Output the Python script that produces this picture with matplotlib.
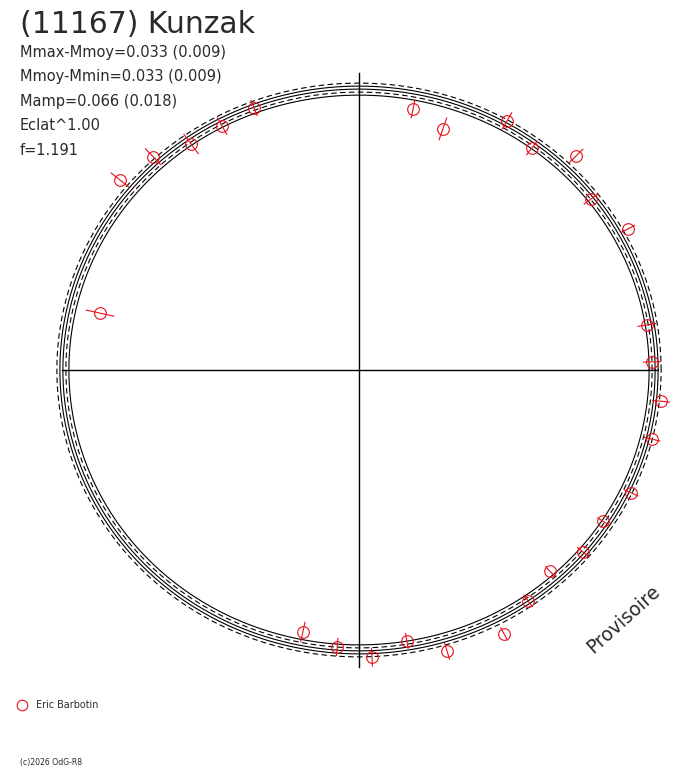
import numpy as np
import matplotlib
matplotlib.use("Agg")
import matplotlib.pyplot as plt

# ---------------- data ----------------
title = "(11167) Kunzak"
stats_lines = ["Mmax-Mmoy=0.033 (0.009)",
               "Mmoy-Mmin=0.033 (0.009)",
               "Mamp=0.066 (0.018)",
               "Eclat^1.00",
               "f=1.191"]
observer = "Eric Barbotin"
copyright_txt = "(c)2026 OdG-R8"
watermark = "Provisoire"

# rotational phase of each measurement (0..1, counterclockwise from +x)
phase = [0.4656, 0.3931, 0.3722, 0.3517, 0.3314, 0.3106, 0.2175, 0.1967,
         0.1647, 0.1447, 0.1239, 0.1011, 0.0769, 0.0247, 0.0044, 0.9836,
         0.9631, 0.9325, 0.9117, 0.8914, 0.8708, 0.8506, 0.8300, 0.7983,
         0.7778, 0.7572, 0.7375, 0.7164]
# brightness deviation (mag, positive = brighter = larger radius)
dmag = [-0.101, 0.073, 0.034, -0.030, -0.038, -0.027, -0.095, -0.144,
        0.005, -0.031, 0.071, -0.001, 0.066, 0.013, 0.020, 0.065,
        0.054, 0.043, -0.007, 0.000, -0.049, -0.010, 0.055, 0.026,
        -0.058, -0.005, -0.046, -0.089]
# measurement uncertainty (mag)
err = [0.061, 0.048, 0.048, 0.052, 0.041, 0.035, 0.039, 0.050,
       0.041, 0.037, 0.041, 0.037, 0.032, 0.039, 0.037, 0.037,
       0.035, 0.032, 0.026, 0.030, 0.026, 0.030, 0.030, 0.037,
       0.032, 0.039, 0.037, 0.043]

# Fourier model of the light curve (harmonic order -> cos, sin amplitude in mag)
model_order = [2]
model_cos = [0.033]
model_sin = [0.000]
# envelopes of the fit (mag offsets) and their line styles
curve_offsets = [-0.026, -0.013, 0.000, 0.013, 0.026]
curve_styles = ["-", (0, (5, 3)), "-", "-", (0, (5, 3))]

# ---------------- layout ----------------
W, H = 688, 768
CX, CY = 359, 370          # centre in pixels
R0 = 288.5                 # unit radius in pixels
SCALE = 0.8                # relative radius per magnitude
RED = "#e8101a"
TXT = "#2a2a2a"

fig = plt.figure(figsize=(W / 100, H / 100), dpi=100)
ax = fig.add_axes([0, 0, 1, 1])
ax.set_xlim(-CX / R0, (W - CX) / R0)
ax.set_ylim(-(H - CY) / R0, CY / R0)
ax.set_aspect("equal")
ax.axis("off")


def radius(dm):
    return 1.0 + SCALE * np.asarray(dm)


# cross
L = 1.03
ax.plot([-L, L], [0, 0], color="black", lw=1.0, zorder=1)
ax.plot([0, 0], [-L, L], color="black", lw=1.0, zorder=1)

# model curves
th = np.linspace(0, 2 * np.pi, 721)
model = np.zeros_like(th)
for k, c, s in zip(model_order, model_cos, model_sin):
    model += c * np.cos(k * th) + s * np.sin(k * th)
for off, ls in zip(curve_offsets, curve_styles):
    r = radius(model + off)
    ax.plot(r * np.cos(th), r * np.sin(th), color="black", lw=0.8,
            linestyle=ls, zorder=2)

# data points with radial error bars
ph = np.asarray(phase) * 2 * np.pi
r = radius(dmag)
e = SCALE * np.asarray(err)
for a, rr, ee in zip(ph, r, e):
    ax.plot([(rr - ee) * np.cos(a), (rr + ee) * np.cos(a)],
            [(rr - ee) * np.sin(a), (rr + ee) * np.sin(a)],
            color=RED, lw=0.8, zorder=3)
ax.plot(r * np.cos(ph), r * np.sin(ph), linestyle="none", marker="o",
        markersize=8.4, markerfacecolor="none", markeredgecolor=RED,
        markeredgewidth=0.8, zorder=4)


def fx(px):
    return px / W


def fy(py):
    return 1 - py / H


fig.text(fx(20), fy(33), title, fontsize=21.5, family="DejaVu Sans",
         color=TXT, va="baseline")
for i, line in enumerate(stats_lines):
    fig.text(fx(20), fy(56.5 + 24.6 * i), line, fontsize=10.5,
             family="DejaVu Sans", color=TXT, va="baseline")

# legend
ax.plot([fx(22)], [fy(705)], transform=fig.transFigure, marker="o",
        markersize=7.6, markerfacecolor="none", markeredgecolor=RED,
        markeredgewidth=0.8, linestyle="none")
fig.text(fx(35.5), fy(705.5), observer, fontsize=6.9, family="DejaVu Sans",
         color=TXT, va="center")
fig.text(fx(20), fy(765), copyright_txt, fontsize=5.6, family="DejaVu Sans",
         color=TXT, va="baseline")

fig.text(fx(623), fy(619), watermark, fontsize=13.5, family="DejaVu Sans",
         color=TXT, rotation=42, ha="center", va="center",
         rotation_mode="anchor")

fig.savefig("out.png", dpi=100)
